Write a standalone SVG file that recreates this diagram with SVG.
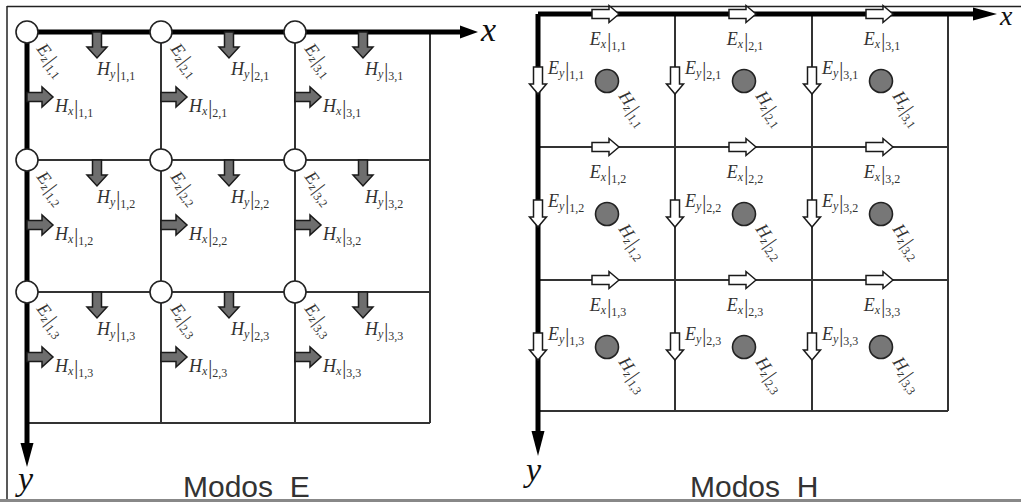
<svg xmlns="http://www.w3.org/2000/svg" width="1021" height="502" viewBox="0 0 1021 502">
<style>
.frame{stroke:#222;stroke-width:1.5;fill:none}
.axis{stroke:#000;stroke-width:5;fill:none}
.grid{stroke:#333;stroke-width:2;fill:none}
.head{fill:#000}
.node{fill:#fff;stroke:#222;stroke-width:1.6}
.hz{fill:#777;stroke:#222;stroke-width:1.6}
.m{font-family:"Liberation Serif","DejaVu Serif",serif;font-style:italic;font-size:18px;fill:#333}
.s{font-size:12px}
.b{font-style:normal;font-size:20px}
.n{font-style:normal;font-size:12px}
.ax{font-family:"Liberation Serif","DejaVu Serif",serif;font-style:italic;font-size:34px;fill:#111}
.cap{font-family:"Liberation Sans",Arial,sans-serif;font-size:30px;fill:#333}
</style>
<defs>
<path id="ga" d="M0,-4.5 H15 V-10 L26,0 L15,10 V4.5 H0 Z" fill="#6e6e6e" stroke="#1a1a1a" stroke-width="1.5"/>
<path id="wa" d="M0,-4.5 H17 V-8.5 L27,0 L17,8.5 V4.5 H0 Z" fill="#fff" stroke="#1a1a1a" stroke-width="1.5"/>
</defs>
<rect width="1021" height="502" fill="#fff"/>
<g id="frame">
<line class="frame" x1="7" y1="6.5" x2="1021" y2="6.5"/>
<line class="frame" x1="7" y1="6" x2="7" y2="500"/>
<line x1="0" y1="500.5" x2="1021" y2="500.5" stroke="#888" stroke-width="3"/>
</g>
<g id="connectors">
<g id="left-grid">
<line class="grid" x1="27" y1="160" x2="430" y2="160"/>
<line class="grid" x1="27" y1="292" x2="430" y2="292"/>
<line class="grid" x1="27" y1="423" x2="430" y2="423"/>
<line class="grid" x1="161" y1="32" x2="161" y2="423"/>
<line class="grid" x1="295" y1="32" x2="295" y2="423"/>
<line class="grid" x1="430" y1="32" x2="430" y2="423"/>
<line class="axis" x1="27" y1="32" x2="462" y2="32"/>
<path class="head" d="M460,25.5 L478,32 L460,38.5 Z"/>
<line class="axis" x1="27" y1="32" x2="27" y2="445"/>
<path class="head" d="M20.5,443 L27,467 L33.5,443 Z"/>
</g>
<g id="right-grid">
<line class="grid" x1="538" y1="147" x2="948" y2="147"/>
<line class="grid" x1="538" y1="280" x2="948" y2="280"/>
<line class="grid" x1="538" y1="411" x2="948" y2="411"/>
<line class="grid" x1="675" y1="14" x2="675" y2="411"/>
<line class="grid" x1="812" y1="14" x2="812" y2="411"/>
<line class="grid" x1="948" y1="14" x2="948" y2="411"/>
<line class="axis" x1="538" y1="14" x2="976" y2="14"/>
<path class="head" d="M973,7.5 L997,14 L973,20.5 Z"/>
<line class="axis" x1="538" y1="14" x2="538" y2="434"/>
<path class="head" d="M531.5,431 L538,456 L544.5,431 Z"/>
</g>
</g>
<g id="axis-labels">
<text class="ax" x="481" y="41">x</text>
<text class="ax" x="18" y="490">y</text>
<text class="ax" x="1000" y="25" style="font-size:28px">x</text>
<text class="ax" x="526" y="481">y</text>
</g>

<!-- Left panel: Modos E -->
<g id="E-1-1">
<circle class="node" cx="27" cy="32" r="11"/>
<text class="m" transform="translate(36,49) rotate(52)">E<tspan class="s" dy="3">z</tspan><tspan class="b" dy="-1" dx="1">|</tspan><tspan class="n" dy="3">1,1</tspan></text>
<use href="#ga" transform="translate(97,32) rotate(90)"/>
<text class="m" x="97" y="75">H<tspan class="s" dy="3">y</tspan><tspan class="b" dy="-1" dx="1">|</tspan><tspan class="n" dy="3">1,1</tspan></text>
<use href="#ga" transform="translate(27,97)"/>
<text class="m" x="55" y="112">H<tspan class="s" dy="3">x</tspan><tspan class="b" dy="-1" dx="1">|</tspan><tspan class="n" dy="3">1,1</tspan></text>
</g>
<g id="E-2-1">
<circle class="node" cx="161" cy="32" r="11"/>
<text class="m" transform="translate(170,49) rotate(52)">E<tspan class="s" dy="3">z</tspan><tspan class="b" dy="-1" dx="1">|</tspan><tspan class="n" dy="3">2,1</tspan></text>
<use href="#ga" transform="translate(229,32) rotate(90)"/>
<text class="m" x="231" y="75">H<tspan class="s" dy="3">y</tspan><tspan class="b" dy="-1" dx="1">|</tspan><tspan class="n" dy="3">2,1</tspan></text>
<use href="#ga" transform="translate(161,97)"/>
<text class="m" x="189" y="112">H<tspan class="s" dy="3">x</tspan><tspan class="b" dy="-1" dx="1">|</tspan><tspan class="n" dy="3">2,1</tspan></text>
</g>
<g id="E-3-1">
<circle class="node" cx="295" cy="32" r="11"/>
<text class="m" transform="translate(304,49) rotate(52)">E<tspan class="s" dy="3">z</tspan><tspan class="b" dy="-1" dx="1">|</tspan><tspan class="n" dy="3">3,1</tspan></text>
<use href="#ga" transform="translate(363,32) rotate(90)"/>
<text class="m" x="365" y="75">H<tspan class="s" dy="3">y</tspan><tspan class="b" dy="-1" dx="1">|</tspan><tspan class="n" dy="3">3,1</tspan></text>
<use href="#ga" transform="translate(295,97)"/>
<text class="m" x="323" y="112">H<tspan class="s" dy="3">x</tspan><tspan class="b" dy="-1" dx="1">|</tspan><tspan class="n" dy="3">3,1</tspan></text>
</g>
<g id="E-1-2">
<circle class="node" cx="27" cy="160" r="11"/>
<text class="m" transform="translate(36,177) rotate(52)">E<tspan class="s" dy="3">z</tspan><tspan class="b" dy="-1" dx="1">|</tspan><tspan class="n" dy="3">1,2</tspan></text>
<use href="#ga" transform="translate(97,160) rotate(90)"/>
<text class="m" x="97" y="203">H<tspan class="s" dy="3">y</tspan><tspan class="b" dy="-1" dx="1">|</tspan><tspan class="n" dy="3">1,2</tspan></text>
<use href="#ga" transform="translate(27,225)"/>
<text class="m" x="55" y="240">H<tspan class="s" dy="3">x</tspan><tspan class="b" dy="-1" dx="1">|</tspan><tspan class="n" dy="3">1,2</tspan></text>
</g>
<g id="E-2-2">
<circle class="node" cx="161" cy="160" r="11"/>
<text class="m" transform="translate(170,177) rotate(52)">E<tspan class="s" dy="3">z</tspan><tspan class="b" dy="-1" dx="1">|</tspan><tspan class="n" dy="3">2,2</tspan></text>
<use href="#ga" transform="translate(229,160) rotate(90)"/>
<text class="m" x="231" y="203">H<tspan class="s" dy="3">y</tspan><tspan class="b" dy="-1" dx="1">|</tspan><tspan class="n" dy="3">2,2</tspan></text>
<use href="#ga" transform="translate(161,225)"/>
<text class="m" x="189" y="240">H<tspan class="s" dy="3">x</tspan><tspan class="b" dy="-1" dx="1">|</tspan><tspan class="n" dy="3">2,2</tspan></text>
</g>
<g id="E-3-2">
<circle class="node" cx="295" cy="160" r="11"/>
<text class="m" transform="translate(304,177) rotate(52)">E<tspan class="s" dy="3">z</tspan><tspan class="b" dy="-1" dx="1">|</tspan><tspan class="n" dy="3">3,2</tspan></text>
<use href="#ga" transform="translate(363,160) rotate(90)"/>
<text class="m" x="365" y="203">H<tspan class="s" dy="3">y</tspan><tspan class="b" dy="-1" dx="1">|</tspan><tspan class="n" dy="3">3,2</tspan></text>
<use href="#ga" transform="translate(295,225)"/>
<text class="m" x="323" y="240">H<tspan class="s" dy="3">x</tspan><tspan class="b" dy="-1" dx="1">|</tspan><tspan class="n" dy="3">3,2</tspan></text>
</g>
<g id="E-1-3">
<circle class="node" cx="27" cy="292" r="11"/>
<text class="m" transform="translate(36,309) rotate(52)">E<tspan class="s" dy="3">z</tspan><tspan class="b" dy="-1" dx="1">|</tspan><tspan class="n" dy="3">1,3</tspan></text>
<use href="#ga" transform="translate(97,292) rotate(90)"/>
<text class="m" x="97" y="335">H<tspan class="s" dy="3">y</tspan><tspan class="b" dy="-1" dx="1">|</tspan><tspan class="n" dy="3">1,3</tspan></text>
<use href="#ga" transform="translate(27,357)"/>
<text class="m" x="55" y="372">H<tspan class="s" dy="3">x</tspan><tspan class="b" dy="-1" dx="1">|</tspan><tspan class="n" dy="3">1,3</tspan></text>
</g>
<g id="E-2-3">
<circle class="node" cx="161" cy="292" r="11"/>
<text class="m" transform="translate(170,309) rotate(52)">E<tspan class="s" dy="3">z</tspan><tspan class="b" dy="-1" dx="1">|</tspan><tspan class="n" dy="3">2,3</tspan></text>
<use href="#ga" transform="translate(229,292) rotate(90)"/>
<text class="m" x="231" y="335">H<tspan class="s" dy="3">y</tspan><tspan class="b" dy="-1" dx="1">|</tspan><tspan class="n" dy="3">2,3</tspan></text>
<use href="#ga" transform="translate(161,357)"/>
<text class="m" x="189" y="372">H<tspan class="s" dy="3">x</tspan><tspan class="b" dy="-1" dx="1">|</tspan><tspan class="n" dy="3">2,3</tspan></text>
</g>
<g id="E-3-3">
<circle class="node" cx="295" cy="292" r="11"/>
<text class="m" transform="translate(304,309) rotate(52)">E<tspan class="s" dy="3">z</tspan><tspan class="b" dy="-1" dx="1">|</tspan><tspan class="n" dy="3">3,3</tspan></text>
<use href="#ga" transform="translate(363,292) rotate(90)"/>
<text class="m" x="365" y="335">H<tspan class="s" dy="3">y</tspan><tspan class="b" dy="-1" dx="1">|</tspan><tspan class="n" dy="3">3,3</tspan></text>
<use href="#ga" transform="translate(295,357)"/>
<text class="m" x="323" y="372">H<tspan class="s" dy="3">x</tspan><tspan class="b" dy="-1" dx="1">|</tspan><tspan class="n" dy="3">3,3</tspan></text>
</g>

<!-- Right panel: Modos H -->
<g id="H-1-1">
<use href="#wa" transform="translate(592,14)"/>
<text class="m" x="608" y="45" text-anchor="middle">E<tspan class="s" dy="3">x</tspan><tspan class="b" dy="-1" dx="1">|</tspan><tspan class="n" dy="3">1,1</tspan></text>
<use href="#wa" transform="translate(538,67) rotate(90)"/>
<text class="m" x="548" y="74">E<tspan class="s" dy="3">y</tspan><tspan class="b" dy="-1" dx="1">|</tspan><tspan class="n" dy="3">1,1</tspan></text>
<circle class="hz" cx="607" cy="81" r="11.5"/>
<text class="m" transform="translate(618,96) rotate(55)">H<tspan class="s" dy="3">z</tspan><tspan class="b" dy="-1" dx="1">|</tspan><tspan class="n" dy="3">1,1</tspan></text>
</g>
<g id="H-2-1">
<use href="#wa" transform="translate(729,14)"/>
<text class="m" x="745" y="45" text-anchor="middle">E<tspan class="s" dy="3">x</tspan><tspan class="b" dy="-1" dx="1">|</tspan><tspan class="n" dy="3">2,1</tspan></text>
<use href="#wa" transform="translate(675,67) rotate(90)"/>
<text class="m" x="685" y="74">E<tspan class="s" dy="3">y</tspan><tspan class="b" dy="-1" dx="1">|</tspan><tspan class="n" dy="3">2,1</tspan></text>
<circle class="hz" cx="744" cy="81" r="11.5"/>
<text class="m" transform="translate(755,96) rotate(55)">H<tspan class="s" dy="3">z</tspan><tspan class="b" dy="-1" dx="1">|</tspan><tspan class="n" dy="3">2,1</tspan></text>
</g>
<g id="H-3-1">
<use href="#wa" transform="translate(866,14)"/>
<text class="m" x="882" y="45" text-anchor="middle">E<tspan class="s" dy="3">x</tspan><tspan class="b" dy="-1" dx="1">|</tspan><tspan class="n" dy="3">3,1</tspan></text>
<use href="#wa" transform="translate(812,67) rotate(90)"/>
<text class="m" x="822" y="74">E<tspan class="s" dy="3">y</tspan><tspan class="b" dy="-1" dx="1">|</tspan><tspan class="n" dy="3">3,1</tspan></text>
<circle class="hz" cx="881" cy="81" r="11.5"/>
<text class="m" transform="translate(892,96) rotate(55)">H<tspan class="s" dy="3">z</tspan><tspan class="b" dy="-1" dx="1">|</tspan><tspan class="n" dy="3">3,1</tspan></text>
</g>
<g id="H-1-2">
<use href="#wa" transform="translate(592,147)"/>
<text class="m" x="608" y="178" text-anchor="middle">E<tspan class="s" dy="3">x</tspan><tspan class="b" dy="-1" dx="1">|</tspan><tspan class="n" dy="3">1,2</tspan></text>
<use href="#wa" transform="translate(538,200) rotate(90)"/>
<text class="m" x="548" y="207">E<tspan class="s" dy="3">y</tspan><tspan class="b" dy="-1" dx="1">|</tspan><tspan class="n" dy="3">1,2</tspan></text>
<circle class="hz" cx="607" cy="214" r="11.5"/>
<text class="m" transform="translate(618,229) rotate(55)">H<tspan class="s" dy="3">z</tspan><tspan class="b" dy="-1" dx="1">|</tspan><tspan class="n" dy="3">1,2</tspan></text>
</g>
<g id="H-2-2">
<use href="#wa" transform="translate(729,147)"/>
<text class="m" x="745" y="178" text-anchor="middle">E<tspan class="s" dy="3">x</tspan><tspan class="b" dy="-1" dx="1">|</tspan><tspan class="n" dy="3">2,2</tspan></text>
<use href="#wa" transform="translate(675,200) rotate(90)"/>
<text class="m" x="685" y="207">E<tspan class="s" dy="3">y</tspan><tspan class="b" dy="-1" dx="1">|</tspan><tspan class="n" dy="3">2,2</tspan></text>
<circle class="hz" cx="744" cy="214" r="11.5"/>
<text class="m" transform="translate(755,229) rotate(55)">H<tspan class="s" dy="3">z</tspan><tspan class="b" dy="-1" dx="1">|</tspan><tspan class="n" dy="3">2,2</tspan></text>
</g>
<g id="H-3-2">
<use href="#wa" transform="translate(866,147)"/>
<text class="m" x="882" y="178" text-anchor="middle">E<tspan class="s" dy="3">x</tspan><tspan class="b" dy="-1" dx="1">|</tspan><tspan class="n" dy="3">3,2</tspan></text>
<use href="#wa" transform="translate(812,200) rotate(90)"/>
<text class="m" x="822" y="207">E<tspan class="s" dy="3">y</tspan><tspan class="b" dy="-1" dx="1">|</tspan><tspan class="n" dy="3">3,2</tspan></text>
<circle class="hz" cx="881" cy="214" r="11.5"/>
<text class="m" transform="translate(892,229) rotate(55)">H<tspan class="s" dy="3">z</tspan><tspan class="b" dy="-1" dx="1">|</tspan><tspan class="n" dy="3">3,2</tspan></text>
</g>
<g id="H-1-3">
<use href="#wa" transform="translate(592,280)"/>
<text class="m" x="608" y="311" text-anchor="middle">E<tspan class="s" dy="3">x</tspan><tspan class="b" dy="-1" dx="1">|</tspan><tspan class="n" dy="3">1,3</tspan></text>
<use href="#wa" transform="translate(538,333) rotate(90)"/>
<text class="m" x="548" y="340">E<tspan class="s" dy="3">y</tspan><tspan class="b" dy="-1" dx="1">|</tspan><tspan class="n" dy="3">1,3</tspan></text>
<circle class="hz" cx="607" cy="347" r="11.5"/>
<text class="m" transform="translate(618,362) rotate(55)">H<tspan class="s" dy="3">z</tspan><tspan class="b" dy="-1" dx="1">|</tspan><tspan class="n" dy="3">1,3</tspan></text>
</g>
<g id="H-2-3">
<use href="#wa" transform="translate(729,280)"/>
<text class="m" x="745" y="311" text-anchor="middle">E<tspan class="s" dy="3">x</tspan><tspan class="b" dy="-1" dx="1">|</tspan><tspan class="n" dy="3">2,3</tspan></text>
<use href="#wa" transform="translate(675,333) rotate(90)"/>
<text class="m" x="685" y="340">E<tspan class="s" dy="3">y</tspan><tspan class="b" dy="-1" dx="1">|</tspan><tspan class="n" dy="3">2,3</tspan></text>
<circle class="hz" cx="744" cy="347" r="11.5"/>
<text class="m" transform="translate(755,362) rotate(55)">H<tspan class="s" dy="3">z</tspan><tspan class="b" dy="-1" dx="1">|</tspan><tspan class="n" dy="3">2,3</tspan></text>
</g>
<g id="H-3-3">
<use href="#wa" transform="translate(866,280)"/>
<text class="m" x="882" y="311" text-anchor="middle">E<tspan class="s" dy="3">x</tspan><tspan class="b" dy="-1" dx="1">|</tspan><tspan class="n" dy="3">3,3</tspan></text>
<use href="#wa" transform="translate(812,333) rotate(90)"/>
<text class="m" x="822" y="340">E<tspan class="s" dy="3">y</tspan><tspan class="b" dy="-1" dx="1">|</tspan><tspan class="n" dy="3">3,3</tspan></text>
<circle class="hz" cx="881" cy="347" r="11.5"/>
<text class="m" transform="translate(892,362) rotate(55)">H<tspan class="s" dy="3">z</tspan><tspan class="b" dy="-1" dx="1">|</tspan><tspan class="n" dy="3">3,3</tspan></text>
</g>

<g id="captions">
<text class="cap" x="183" y="497" xml:space="preserve">Modos  E</text>
<text class="cap" x="690" y="497" xml:space="preserve">Modos  H</text>
</g>
</svg>
